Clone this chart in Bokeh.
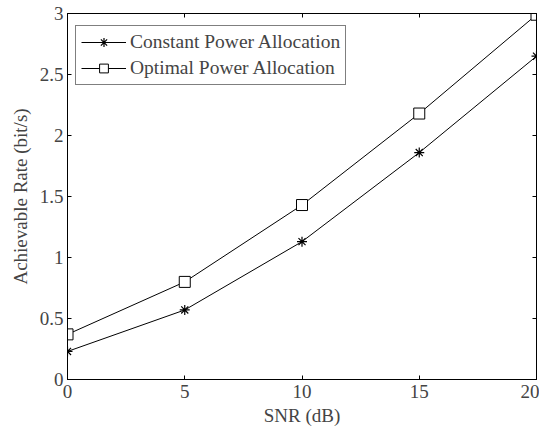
from bokeh.plotting import figure
from bokeh.models import LinearAxis, Range1d, FixedTicker, Legend, LegendItem
from bokeh.embed import file_html
from bokeh.resources import INLINE

snr = [0, 5, 10, 15, 20]
constant = [0.23, 0.57, 1.13, 1.86, 2.65]
optimal = [0.37, 0.80, 1.43, 2.18, 2.99]
x_ticks = [0, 5, 10, 15, 20]
y_ticks = [0, 0.5, 1, 1.5, 2, 2.5, 3]
x_tick_labels = ["0", "5", "10", "15", "20"]
y_tick_labels = ["0", "0.5", "1", "1.5", "2", "2.5", "3"]

FONT = "Liberation Serif"
FS = "19px"

p = figure(width=539, height=428, output_backend="svg", toolbar_location=None,
           x_range=Range1d(0, 20), y_range=Range1d(0, 3),
           min_border_left=67, min_border_top=13, min_border_right=3, min_border_bottom=49)
p.grid.visible = False
p.outline_line_color = "black"
p.outline_line_width = 1
p.background_fill_color = "white"
p.border_fill_color = "white"

for ax in (p.xaxis[0], p.yaxis[0]):
    ax.major_tick_in = 4
    ax.major_tick_out = 0
    ax.minor_tick_line_color = None
    ax.axis_line_color = "black"
    ax.major_label_text_font = FONT
    ax.major_label_text_font_size = FS
    ax.axis_label_text_font = FONT
    ax.axis_label_text_font_size = FS
    ax.axis_label_text_font_style = "normal"
p.xaxis.ticker = FixedTicker(ticks=x_ticks)
p.yaxis.ticker = FixedTicker(ticks=y_ticks)
p.xaxis.major_label_overrides = dict(zip(x_ticks, x_tick_labels))
p.yaxis.major_label_overrides = dict(zip(y_ticks, y_tick_labels))
p.xaxis.axis_label = "SNR (dB)"
p.yaxis.axis_label = "Achievable Rate (bit/s)"
p.xaxis.major_label_standoff = 5
p.yaxis.major_label_standoff = 4
p.xaxis.axis_label_standoff = 4
p.yaxis.axis_label_standoff = 6

for side, tk in (("right", y_ticks), ("above", x_ticks)):
    ax = LinearAxis(ticker=FixedTicker(ticks=tk),
                    major_label_overrides={t: "" for t in tk},
                    major_tick_in=4, major_tick_out=0, minor_tick_line_color=None,
                    axis_line_color="black", major_label_standoff=0)
    p.add_layout(ax, side)

l1 = p.line(snr, constant, line_color="black", line_width=1)
s1 = p.scatter(snr, constant, marker="asterisk", size=10, line_color="black", line_width=1.2)
l2 = p.line(snr, optimal, line_color="black", line_width=1)
s2 = p.scatter(snr, optimal, marker="square", size=11, line_color="black", fill_color="white", line_width=1)

legend = Legend(items=[LegendItem(label="Constant Power Allocation", renderers=[l1, s1]),
                       LegendItem(label="Optimal Power Allocation", renderers=[l2, s2])],
                location=(8, 294))
legend.label_text_font = FONT
legend.label_text_font_size = "19.5px"
legend.border_line_color = "black"
legend.border_line_width = 1.5
legend.glyph_width = 45
legend.glyph_height = 22
legend.label_height = 22
legend.spacing = 4
legend.padding = 5
legend.margin = 0
legend.label_standoff = 4
legend.background_fill_alpha = 1
p.add_layout(legend)

open("out.html", "w").write(file_html(p, INLINE))
